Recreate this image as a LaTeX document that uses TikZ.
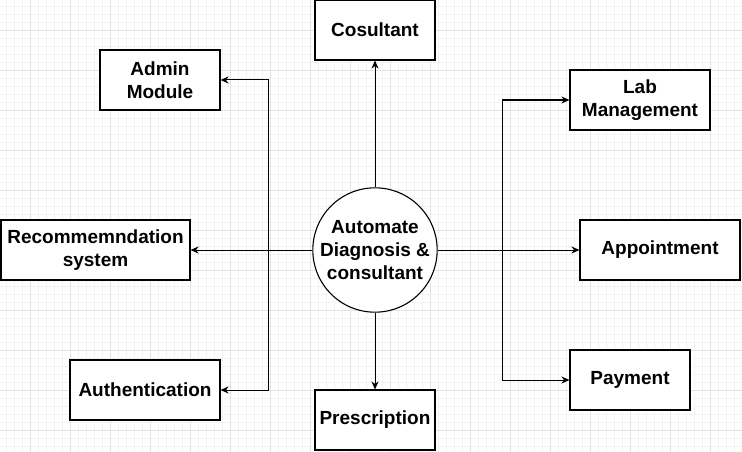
\documentclass[tikz,border=0pt]{standalone}
\usepackage{fontspec}
\setmainfont{Liberation Sans}
\usetikzlibrary{arrows.meta}
\definecolor{gridminor}{HTML}{F2F2F2}
\definecolor{gridmajor}{HTML}{E3E3E3}
\begin{document}
\begin{tikzpicture}[x=1pt,y=-1pt,
  box/.style={draw=black,line width=1.1pt,fill=white,align=center,inner sep=0pt,
    font=\fontsize{19}{23}\selectfont\bfseries},
  hubnode/.style={box,circle,minimum size=120pt},
  arr/.style={draw=black,line width=1pt,-{Stealth[length=8pt,width=7pt,inset=2.5pt]}},
  ln/.style={draw=black,line width=1pt}]
\useasboundingbox (0,0) rectangle (742,452);
\fill[white] (0,0) rectangle (742,452);
\foreach \x in {6,14,...,742} \draw[gridminor,line width=0.8pt] (\x,0) -- (\x,452);
\foreach \y in {6,14,...,452} \draw[gridminor,line width=0.8pt] (0,\y) -- (742,\y);
\foreach \x in {30,70,...,742} \draw[gridmajor,line width=0.9pt] (\x,0) -- (\x,452);
\foreach \y in {30,70,...,452} \draw[gridmajor,line width=0.9pt] (0,\y) -- (742,\y);

\node[hubnode] (hub) at (375,250) {Automate\\Diagnosis \&\\consultant};
\node[box,minimum width=120pt,minimum height=60pt] (cons) at (375,30) {Cosultant};
\node[box,minimum width=120pt,minimum height=60pt] (pres) at (375,420) {Prescription};
\node[box,minimum width=120pt,minimum height=60pt] (admin) at (160,80) {Admin\\Module};
\node[box,minimum width=189pt,minimum height=60pt] (rec) at (95.5,250) {Recommemndation\\system};
\node[box,minimum width=150pt,minimum height=60pt] (auth) at (145,390) {Authentication};
\node[box,minimum width=140pt,minimum height=60pt] (lab) at (640,100) {Lab\\Management};
\node[box,minimum width=160pt,minimum height=60pt] (appt) at (660,250) {Appointment};
\node[box,minimum width=120pt,minimum height=60pt] (pay) at (630,380) {Payment};

\coordinate (lj) at (268,250);
\coordinate (rj) at (502,250);

\draw[arr] (hub.north) -- (cons.south);
\draw[arr] (hub.south) -- (pres.north);
\draw[arr] (hub.west) -- (rec.east);
\draw[arr] (lj) |- (admin.east);
\draw[arr] (lj) |- (auth.east);
\draw[arr] (hub.east) -- (appt.west);
\draw[arr] (rj) |- (lab.west);
\draw[arr] (rj) |- (pay.west);
\end{tikzpicture}
\end{document}
